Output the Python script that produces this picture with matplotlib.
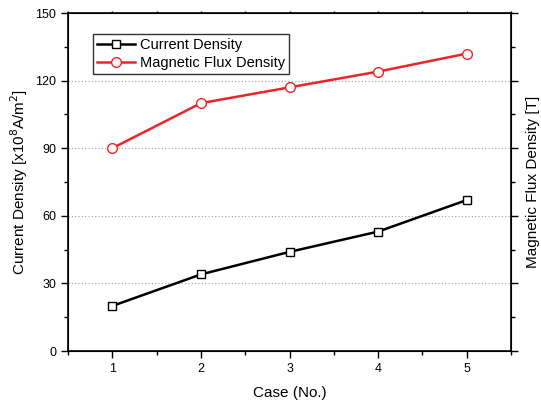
import numpy as np
import matplotlib.pyplot as plt
from matplotlib.ticker import MultipleLocator

plt.rcParams['font.family'] = ['Liberation Sans', 'DejaVu Sans']

cases = [1, 2, 3, 4, 5]
current_density = [20, 34, 44, 53, 67]
flux_density = [90, 110, 117, 124, 132]

fig = plt.figure(figsize=(5.41, 4.03), dpi=100)
ax = fig.add_axes([0.1257, 0.129, 0.819, 0.8387])

ax.plot(cases, current_density, color='black', lw=1.8, marker='s', ms=6,
        mfc='white', mec='black', mew=1.0, label='Current Density', zorder=3)
ax.plot(cases, flux_density, color='#e8262a', lw=1.8, marker='o', ms=7,
        mfc='white', mec='#e8262a', mew=1.0, label='Magnetic Flux Density', zorder=3)

ax.set_xlim(0.5, 5.5)
ax.set_ylim(0, 150)
ax.xaxis.set_major_locator(MultipleLocator(1))
ax.xaxis.set_minor_locator(MultipleLocator(0.5))
ax.yaxis.set_major_locator(MultipleLocator(30))
ax.yaxis.set_minor_locator(MultipleLocator(15))

for y in [30, 60, 90, 120]:
    ax.axhline(y, color='#a0a0a0', lw=0.8, ls=(0, (1, 2)), zorder=1)

ax.tick_params(which='major', direction='out', length=5, width=1, labelsize=9)
ax.tick_params(which='minor', direction='out', length=3, width=1)
ax.tick_params(axis='x', top=True, which='both')
ax.tick_params(axis='x', which='both', top=True)
for t in ax.xaxis.get_major_ticks() + ax.xaxis.get_minor_ticks():
    t.tick2line.set_markersize(1.5)
for sp in ax.spines.values():
    sp.set_linewidth(1.2)

# right axis just for ticks and title
ax2 = ax.twinx()
ax2.set_ylim(0, 150)
ax2.yaxis.set_major_locator(MultipleLocator(30))
ax2.yaxis.set_minor_locator(MultipleLocator(15))
ax2.tick_params(which='major', direction='out', length=5, width=1, labelright=False)
ax2.tick_params(which='minor', direction='out', length=3, width=1)
ax2.set_ylabel('Magnetic Flux Density [T]', fontsize=11, labelpad=4)

ax.set_xlabel('Case (No.)', fontsize=11, labelpad=8)
ax.set_ylabel(r'Current Density [x10$^8$A/m$^2$]', fontsize=11, labelpad=4)

leg = ax.legend(loc='upper left', bbox_to_anchor=(0.04, 0.96), fontsize=10.5,
                frameon=True, fancybox=False, edgecolor='black', handlelength=2.6,
                borderpad=0.3, labelspacing=0.25, handletextpad=0.3)
leg.get_frame().set_linewidth(1.0)

fig.savefig('out.png', dpi=100)
